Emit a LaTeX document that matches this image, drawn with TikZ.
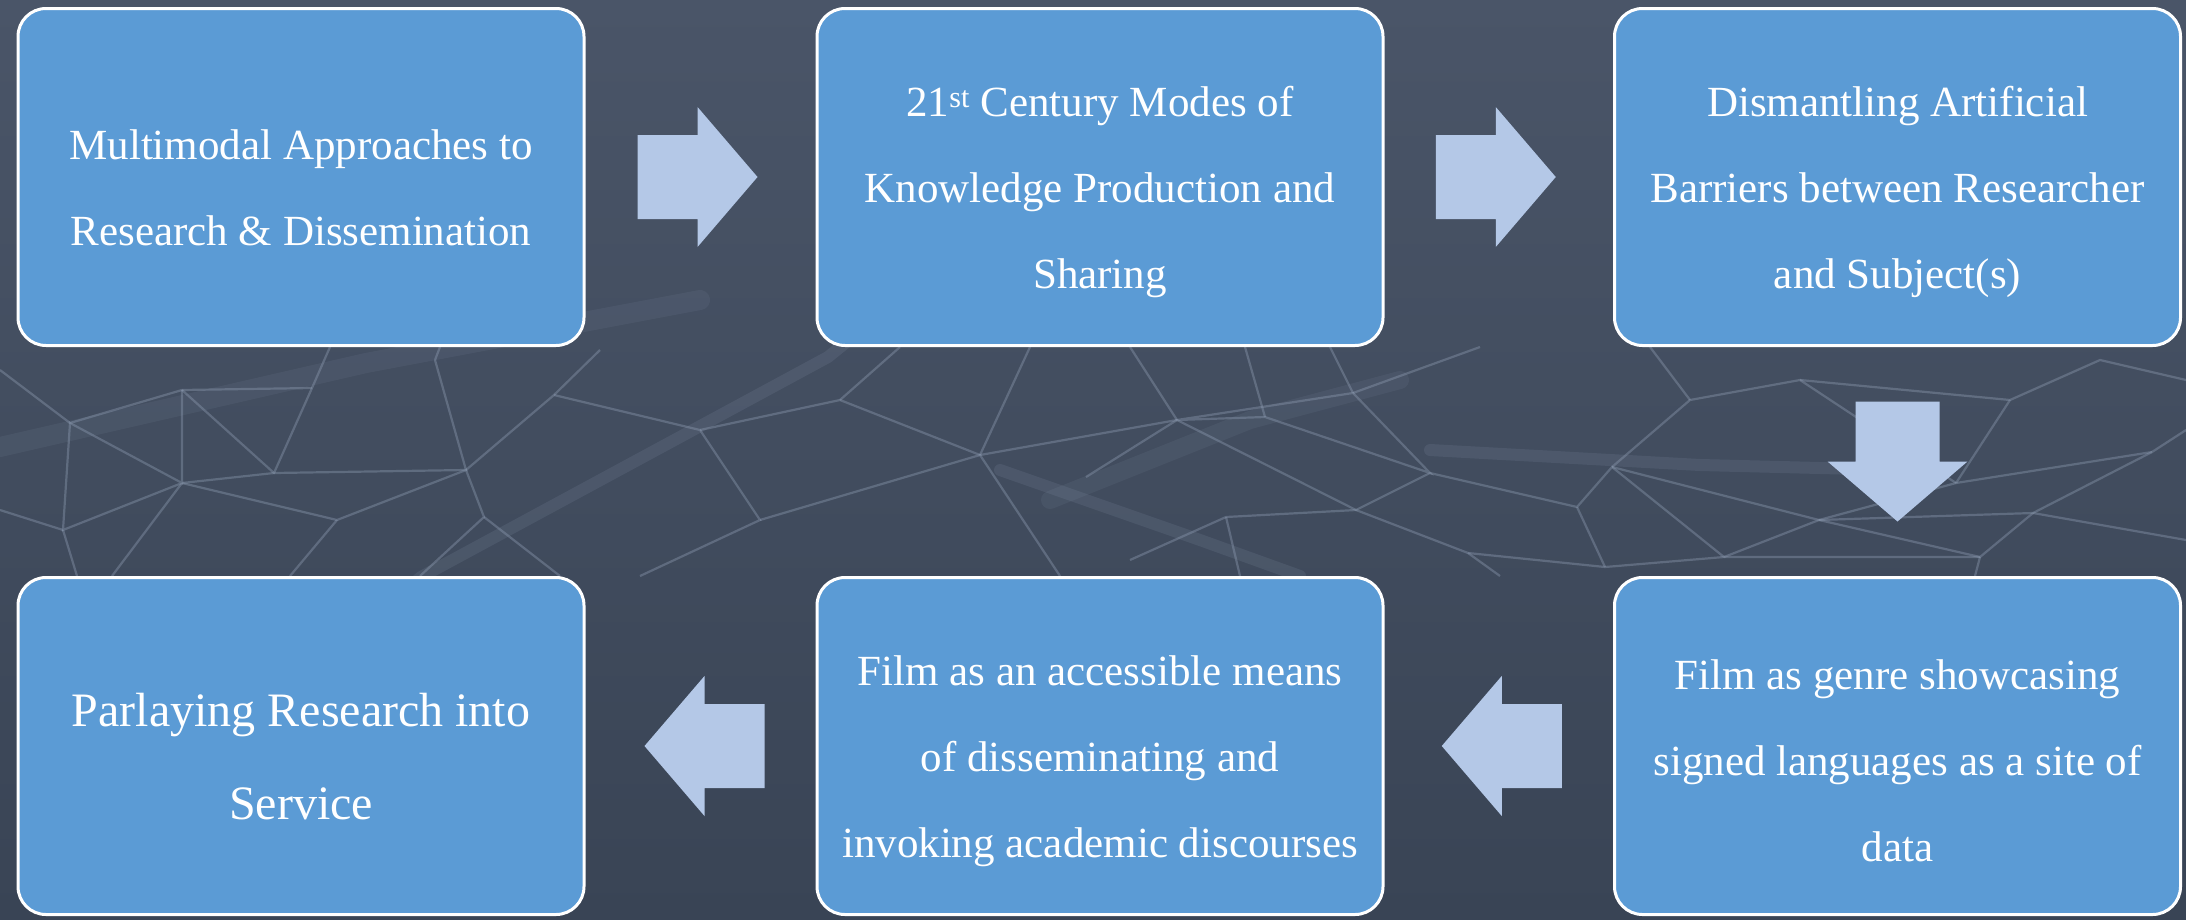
\documentclass[tikz,border=0pt]{standalone}
\usepackage{fontspec}
\setmainfont{Liberation Serif}
\usetikzlibrary{calc}
\definecolor{bgcol}{HTML}{394455}
\definecolor{bgtop}{HTML}{4A5568}
\definecolor{boxblue}{HTML}{5B9BD5}
\definecolor{arrowcol}{HTML}{B4C8E7}
\definecolor{netcol}{HTML}{8E9CB2}
\newcommand\blockarrow[2]{\fill[arrowcol, shift={(#1)}, rotate=#2] (-60,-42) -- (0,-42) -- (0,-70) -- (60,0) -- (0,70) -- (0,42) -- (-60,42) -- cycle;}
\begin{document}
\begin{tikzpicture}[x=1pt,y=-1pt,
  box/.style={draw=white, line width=3pt, fill=boxblue, rounded corners=28pt,
    minimum width=566pt, minimum height=337pt, inner sep=0pt},
  txt/.style={text=white, align=center, inner sep=0pt, font=\fontsize{43}{86}\selectfont},
  bigtxt/.style={text=white, align=center, inner sep=0pt, font=\fontsize{48}{93}\selectfont},
  net/.style={draw=netcol, line width=2.2pt, opacity=0.4},
  glow/.style={draw=netcol, line width=12pt, opacity=0.15, line cap=round}]
\useasboundingbox (0,0) rectangle (2186,919);
\shade[top color=bgtop, bottom color=bgcol] (0,0) rectangle (2186,919);
% faint network background
\begin{scope}
\path[glow] (960,250) -- (828,357) -- (421,577) -- (300,680);
\path[glow, line width=20pt, opacity=0.1] (0,447) -- (366,363) -- (700,300);
\path[glow] (1430,450) -- (1700,465) -- (1900,470);
\path[glow, line width=18pt, opacity=0.1] (1050,500) -- (1250,420) -- (1400,380);
\path[glow] (1000,470) -- (1200,540) -- (1300,576);
% left cluster
\path[net] (0,370) -- (70,423) -- (182,390) -- (312,388);
\path[net] (182,390) -- (182,483) -- (70,423) -- (63,530) -- (182,483) -- (274,473) -- (312,388);
\path[net] (182,390) -- (274,473) -- (466,470) -- (435,360);
\path[net] (466,470) -- (554,395) -- (600,350);
\path[net] (182,483) -- (337,520) -- (466,470) -- (484,517) -- (420,576);
\path[net] (63,530) -- (0,510); \path[net] (63,530) -- (77,576);
\path[net] (337,520) -- (290,576); \path[net] (182,483) -- (112,576);
\path[net] (484,517) -- (560,576); \path[net] (435,360) -- (440,347);
\path[net] (312,388) -- (330,347);
% middle
\path[net] (554,395) -- (700,430) -- (760,520) -- (640,576);
\path[net] (700,430) -- (840,400) -- (980,455) -- (1177,420);
\path[net] (760,520) -- (980,455) -- (1060,576);
\path[net] (840,400) -- (900,347);
\path[net] (980,455) -- (1030,347);
% right cluster
\path[net] (1086,477) -- (1177,420) -- (1353,393) -- (1430,473) -- (1265,417) -- (1177,420);
\path[net] (1177,420) -- (1356,510) -- (1430,473) -- (1577,507) -- (1612,467) -- (1724,557);
\path[net] (1356,510) -- (1468,553) -- (1605,567) -- (1724,557) -- (1819,520) -- (2033,513) -- (2152,452);
\path[net] (1577,507) -- (1605,567);
\path[net] (1819,520) -- (1956,483) -- (2152,452);
\path[net] (1724,557) -- (1980,557) -- (2033,513);
\path[net] (1819,520) -- (1980,557);
\path[net] (1612,467) -- (1819,520);
\path[net] (1356,510) -- (1226,517) -- (1130,560);
\path[net] (1177,420) -- (1130,347);
\path[net] (1265,417) -- (1245,347); \path[net] (1353,393) -- (1330,347);
\path[net] (1353,393) -- (1480,347); \path[net] (1226,517) -- (1240,576);
\path[net] (1468,553) -- (1500,576);
\path[net] (1956,483) -- (2010,400); \path[net] (2152,452) -- (2186,430);
\path[net] (1980,557) -- (1975,576); \path[net] (2033,513) -- (2186,540);
\path[net] (1612,467) -- (1690,400) -- (1800,380) -- (1956,483);
\path[net] (1690,400) -- (1650,347); \path[net] (2010,400) -- (2100,360) -- (2186,380);
\path[net] (1800,380) -- (2010,400);
\end{scope}
% boxes
\node[box] (b1) at (301,177) {};
\node[box] (b2) at (1100,177) {};
\node[box] (b3) at (1897.5,177) {};
\node[box] (b4) at (1897.5,746) {};
\node[box] (b5) at (1100,746) {};
\node[box] (b6) at (301,746) {};
\node[txt, yshift=-11pt] (t1) at (b1) {Multimodal Approaches to\\Research \& Dissemination};
\node[txt, yshift=-15pt] (t2) at (b2) {21\textsuperscript{st} Century Modes of\\Knowledge Production and\\Sharing};
\node[txt, yshift=-15pt] (t3) at (b3) {Dismantling Artificial\\Barriers between Researcher\\and Subject(s)};
\node[txt, yshift=-15pt] (t4) at (b4) {Film as genre showcasing\\signed languages as a site of\\data};
\node[txt, yshift=-15pt] (t5) at (b5) {Film as an accessible means\\of disseminating and\\invoking academic discourses};
\node[bigtxt, yshift=-11pt] (t6) at (b6) {Parlaying Research into\\Service};
% arrows
\coordinate (a1) at ($(b1.east)!0.5!(b2.west)+(-3,0)$);
\coordinate (a2) at ($(b2.east)!0.5!(b3.west)+(-3,0)$);
\coordinate (a3) at ($(b3.south)!0.5!(b4.north)$);
\coordinate (a4) at ($(b4.west)!0.5!(b5.east)+(3,0)$);
\coordinate (a5) at ($(b5.west)!0.5!(b6.east)+(4,0)$);
\blockarrow{a1}{0}
\blockarrow{a2}{0}
\blockarrow{a3}{-90}
\blockarrow{a4}{180}
\blockarrow{a5}{180}
\end{tikzpicture}
\end{document}
